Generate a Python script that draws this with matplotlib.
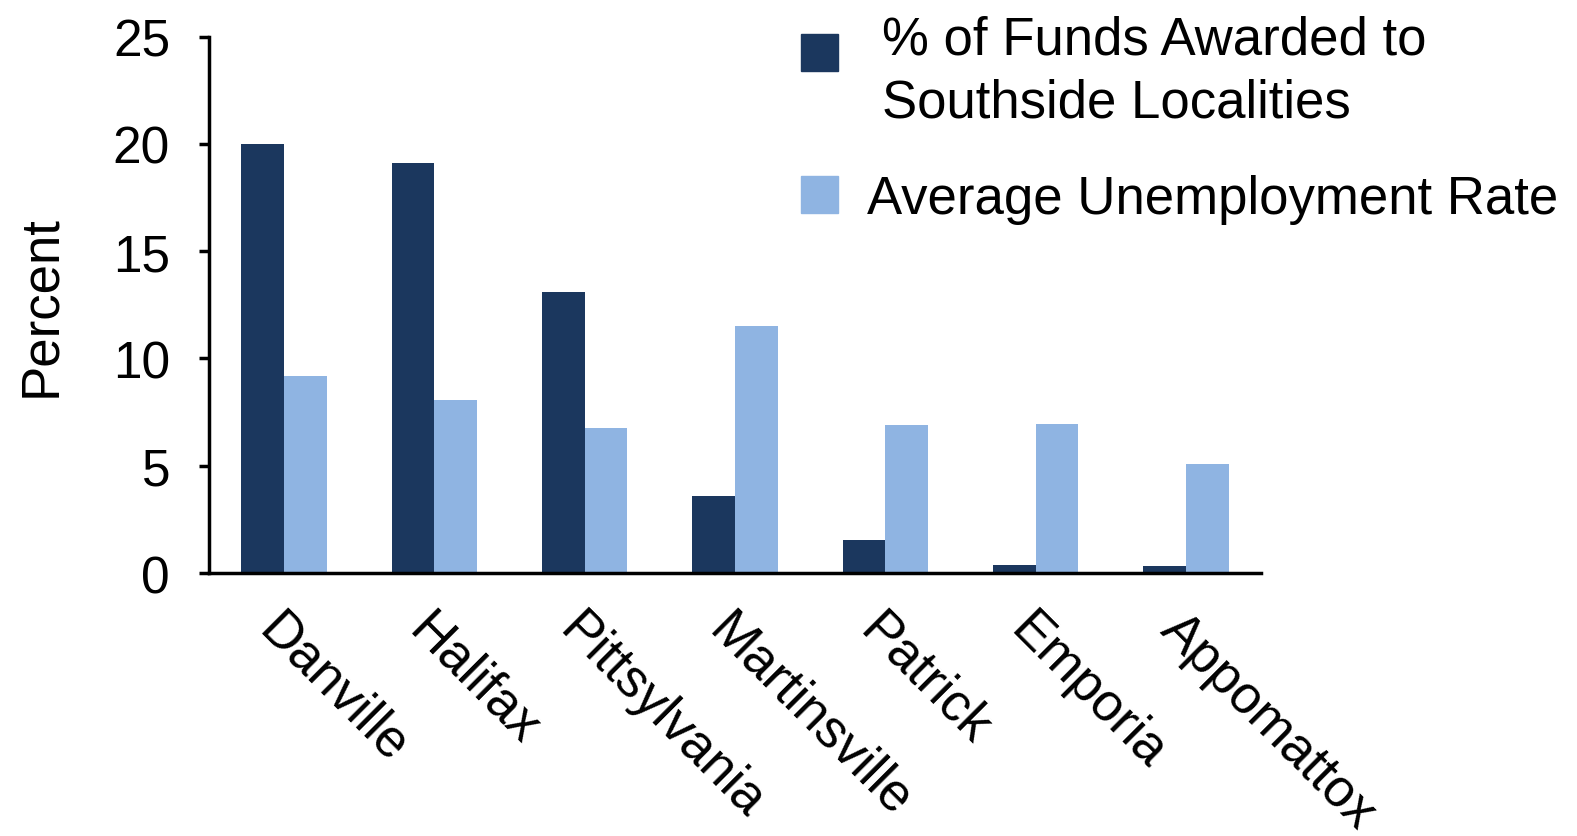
import numpy as np
import matplotlib.pyplot as plt
from matplotlib.patches import Rectangle

plt.rcParams['font.family'] = ['Liberation Sans', 'DejaVu Sans']

places = ["Danville", "Halifax", "Pittsylvania", "Martinsville", "Patrick", "Emporia", "Appomattox"]
funds = [20.0, 19.1, 13.1, 3.6, 1.55, 0.37, 0.32]       # % of funds awarded
unemp = [9.2, 8.05, 6.75, 11.5, 6.9, 6.95, 5.1]          # avg unemployment rate
names = ["% of Funds Awarded to\nSouthside Localities", "Average Unemployment Rate"]
colors = ["#1B375E", "#8FB4E2"]

fig = plt.figure(figsize=(15.77, 8.37), dpi=100)
ax = fig.add_axes([0.1325, 0.3142, 0.6671, 0.6408])

x = np.arange(len(places))
w = 0.284
ax.bar(x - w/2, funds, w, color=colors[0])
ax.bar(x + w/2, unemp, w, color=colors[1])

ax.set_xlim(-0.5, 6.5)
ax.set_ylim(0, 25)
ax.set_yticks([0, 5, 10, 15, 20, 25])
for s in ["top", "right"]:
    ax.spines[s].set_visible(False)
for s in ["left", "bottom"]:
    ax.spines[s].set_linewidth(2.5)
ax.tick_params(axis="y", direction="out", length=7, width=2.5, labelsize=37, pad=21)
ax.tick_params(axis="x", length=0, labelsize=38, pad=22)
ax.set_xticks(x)
ax.set_xticklabels(places, rotation=-45, ha="left", va="top", rotation_mode="anchor")

ax.set_ylabel("Percent", fontsize=38)
ax.yaxis.set_label_coords(-0.136, 0.5)

# legend drawn by hand (baseline = last line)
sq_y = [0.914, 0.744]
txt = [(0.5593, 0.8594), (0.5498, 0.744)]
for c, n, y0, (tx, ty) in zip(colors, names, sq_y, txt):
    fig.add_artist(Rectangle((0.508, y0), 0.0235, 0.0442, transform=fig.transFigure, color=c))
    fig.text(tx, ty, n, fontsize=38, va="baseline", linespacing=1.33)

fig.savefig("out.png")
